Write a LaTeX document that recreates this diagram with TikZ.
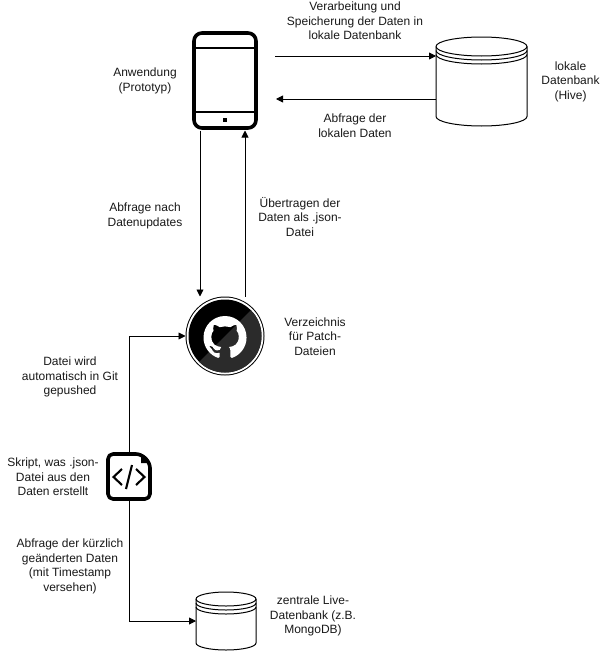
\documentclass[tikz,border=0pt]{standalone}
\usepackage{fontspec}
\setmainfont{Liberation Sans}
\usetikzlibrary{arrows.meta,calc,svg.path}
\tikzset{
  lbl/.style={align=center,font=\fontsize{12}{14.6}\selectfont,text=black!90,inner sep=0pt},
  icon/.style={inner sep=0pt,outer sep=0pt,minimum width=#1},
  conn/.style={draw=black,line width=0.9pt,-{Triangle[length=7pt,width=7pt]}},
  dbline/.style={draw=black,line width=1pt},
  heavy/.style={draw=black,line width=3.6pt,line join=round}
}
% left, right, top of ellipse box, bottom, ry
\newcommand{\halfdown}[4]{% left,right,y of widest line,ry : lower half of ellipse
  (#1,#3) .. controls (#1,#3+0.55*#4) and ({(#1+#2)/2-0.276*(#2-#1)},#3+#4) .. ({(#1+#2)/2},#3+#4)
          .. controls ({(#1+#2)/2+0.276*(#2-#1)},#3+#4) and (#2,#3+0.55*#4) .. (#2,#3)}
\newcommand{\dbshape}[5]{%
  \filldraw[fill=white,dbline] (#1,#3+#5)
     .. controls (#1,#3+0.45*#5) and ({(#1+#2)/2-0.276*(#2-#1)},#3) .. ({(#1+#2)/2},#3)
     .. controls ({(#1+#2)/2+0.276*(#2-#1)},#3) and (#2,#3+0.45*#5) .. (#2,#3+#5)
     -- (#2,#4-#5)
     .. controls (#2,#4-0.45*#5) and ({(#1+#2)/2+0.276*(#2-#1)},#4) .. ({(#1+#2)/2},#4)
     .. controls ({(#1+#2)/2-0.276*(#2-#1)},#4) and (#1,#4-0.45*#5) .. (#1,#4-#5)
     -- cycle;
  \draw[dbline] \halfdown{#1}{#2}{#3+#5}{#5};
  \draw[dbline] \halfdown{#1}{#2}{#3+#5+4}{#5};
  \draw[dbline] \halfdown{#1}{#2}{#3+#5+8}{#5};
}
\begin{document}
\begin{tikzpicture}[x=1pt,y=-1pt]
\useasboundingbox (0,0) rectangle (607,653);
\fill[white] (0,0) rectangle (607,653);

% phone
\draw[heavy,rounded corners=8pt] (194,33) rectangle (256,128);
\draw[black,line width=2.6pt] (194,48) -- (256,48) (194,112) -- (256,112);
\fill[black] (223,118) rectangle (227,122);
\node[icon=66pt,minimum height=99pt] (phone) at (225,81) {};

% local db
\dbshape{436}{527}{37}{126}{9.5}
\node[icon=91pt,minimum height=89pt] (localdb) at (481.5,81.5) {};

% github
\fill[black] (225,336) circle[radius=39.5];
\fill[white] (225,336) circle[radius=38.5];
\fill[black] (225,336) circle[radius=36.5];
\begin{scope}
  \clip (225,336) circle[radius=36.5];
  \fill[black!83] (262,299) -- (262,373) -- (188,373) -- cycle;
\end{scope}
\begin{scope}[shift={(203.5,316)},xscale=2.69,yscale=-2.69]
\fill[white] svg {M 8 0 C 3.58 0 0 3.58 0 8 c 0 3.54 2.29 6.53 5.47 7.59 c 0.4 0.07 0.55 -0.17 0.55 -0.38 c 0 -0.19 -0.01 -0.82 -0.01 -1.49 c -2.01 0.37 -2.53 -0.49 -2.69 -0.94 c -0.09 -0.23 -0.48 -0.94 -0.82 -1.13 c -0.28 -0.15 -0.68 -0.52 -0.01 -0.53 c 0.63 -0.01 1.08 0.58 1.23 0.82 c 0.72 1.21 1.87 0.87 2.33 0.66 c 0.07 -0.52 0.28 -0.87 0.51 -1.07 c -1.78 -0.2 -3.64 -0.89 -3.64 -3.95 c 0 -0.87 0.31 -1.59 0.82 -2.15 c -0.08 -0.2 -0.36 -1.02 0.08 -2.12 c 0 0 0.67 -0.21 2.2 0.82 c 0.64 -0.18 1.32 -0.27 2 -0.27 c 0.68 0 1.36 0.09 2 0.27 c 1.53 -1.04 2.2 -0.82 2.2 -0.82 c 0.44 1.1 0.16 1.92 0.08 2.12 c 0.51 0.56 0.82 1.27 0.82 2.15 c 0 3.07 -1.87 3.75 -3.65 3.95 c 0.29 0.25 0.54 0.73 0.54 1.48 c 0 1.07 -0.01 1.93 -0.01 2.2 c 0 0.21 0.15 0.46 0.55 0.38 C 13.71 14.53 16 11.54 16 8 c 0 -4.42 -3.58 -8 -8 -8 z};
\end{scope}
\node[icon=79pt,minimum height=79pt] (github) at (225,336) {};

% script
\draw[heavy,rounded corners=5pt] (108,454) -- (141,454) -- (150,463) -- (150,499) -- (108,499) -- cycle;
\fill[black] (141,454) -- (150,463) -- (141,463) -- cycle;
\draw[black,line width=2.1pt] (122,469) -- (113.5,477) -- (122,485);
\draw[black,line width=2.1pt] (136,469) -- (144.5,477) -- (136,485);
\draw[black,line width=2.1pt] (132,465) -- (126,489);
\node[icon=46pt,minimum height=49pt] (script) at (129,476.5) {};

% central db
\dbshape{196}{256}{592}{650}{7}
\node[icon=60pt,minimum height=58pt] (centraldb) at (226,621) {};

% connectors
\draw[conn] (phone.east |- 0,56) ++(17,0) -- (localdb.west |- 0,56);
\draw[conn] (localdb.west |- 0,99) -- (276,99);
\draw[conn] ([xshift=-25pt]phone.south) -- ([xshift=-25pt]github.north);
\draw[conn] ([xshift=20pt]github.north) -- ([xshift=20pt]phone.south);
\draw[conn] (script.north) |- (github.west);
\draw[conn] (script.south) |- (centraldb.west);

% labels
\node[lbl] (t1) at (355,21) {Verarbeitung und\\Speicherung der Daten in\\lokale Datenbank};
\node[lbl] (t2) at (570.5,81.5) {lokale\\Datenbank\\(Hive)};
\node[lbl] (t3) at (355,126) {Abfrage der\\lokalen Daten};
\node[lbl] (t4) at (145,81) {Anwendung\\(Prototyp)};
\node[lbl] (t5) at (145,216) {Abfrage nach\\Datenupdates};
\node[lbl] (t6) at (300,217) {Übertragen der\\Daten als .json-\\Datei};
\node[lbl] (t7) at (315,336.5) {Verzeichnis\\für Patch-\\Dateien};
\node[lbl] (t8) at (70,377) {Datei wird\\automatisch in Git\\gepushed};
\node[lbl] (t9) at (53,477) {Skript, was .json-\\Datei aus den\\Daten erstellt};
\node[lbl] (t10) at (70,566.5) {Abfrage der kürzlich\\geänderten Daten\\(mit Timestamp\\versehen)};
\node[lbl] (t11) at (313,616) {zentrale Live-\\Datenbank (z.B.\\MongoDB)};
\end{tikzpicture}
\end{document}
